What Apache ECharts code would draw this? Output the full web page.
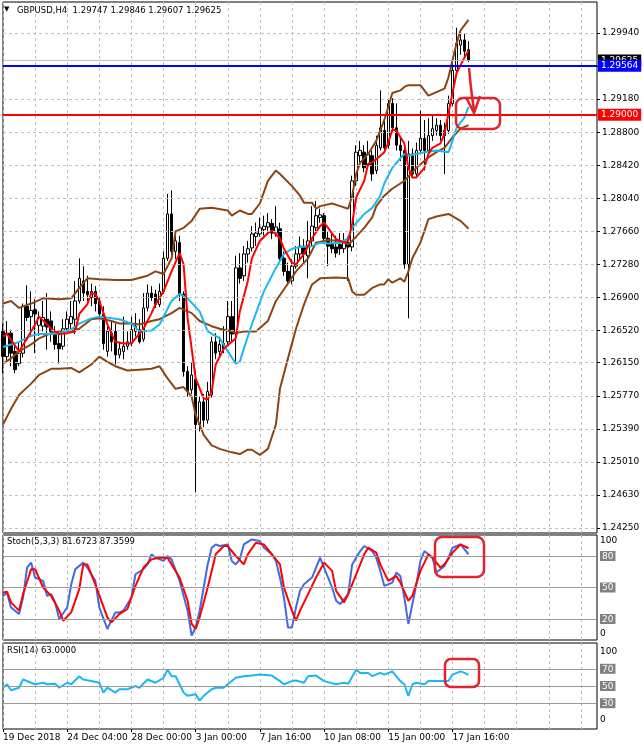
<!DOCTYPE html>
<html><head><meta charset="utf-8">
<script src="https://cdn.jsdelivr.net/npm/echarts@6/dist/echarts.min.js"></script>
<style>html,body{margin:0;padding:0;background:#fff}#c{width:643px;height:750px}</style>
</head><body><div id="c"></div>
<script>
// ---- data (GBPUSD H4) ----
const openP=[1.2651,1.2622,1.2649,1.2628,1.2614,1.2626,1.2680,1.2668,1.2676,1.2658,1.2657,1.2665,1.2663,1.2648,1.2637,1.2634,1.2654,1.2660,1.2665,1.2686,1.2709,1.2697,1.2690,1.2697,1.2686,1.2671,1.2628,1.2649,1.2651,1.2624,1.2628,1.2634,1.2637,1.2651,1.2653,1.2642,1.2678,1.2695,1.2694,1.2682,1.2697,1.2735,1.2786,1.2743,1.2753,1.2694,1.2605,1.2584,1.2596,1.2544,1.2570,1.2549,1.2578,1.2639,1.2628,1.2637,1.2639,1.2668,1.2648,1.2724,1.2715,1.2740,1.2747,1.2760,1.2763,1.2768,1.2771,1.2775,1.2764,1.2769,1.2735,1.2720,1.2709,1.2726,1.2740,1.2749,1.2738,1.2755,1.2770,1.2782,1.2784,1.2758,1.2751,1.2748,1.2751,1.2746,1.2753,1.2748,1.2824,1.2853,1.2857,1.2842,1.2853,1.2836,1.2862,1.2882,1.2865,1.2913,1.2885,1.2865,1.2859,1.2728,1.2855,1.2832,1.2859,1.2873,1.2859,1.2876,1.2882,1.2888,1.2876,1.2882,1.2913,1.2951,1.2980,1.2986,1.29747];
const highP=[1.2660,1.2663,1.2653,1.2634,1.2639,1.2683,1.2704,1.2697,1.2688,1.2674,1.2686,1.2695,1.2674,1.2657,1.2651,1.2665,1.2674,1.2686,1.2709,1.2735,1.2726,1.2715,1.2706,1.2703,1.2690,1.2680,1.2657,1.2663,1.2660,1.2639,1.2668,1.2651,1.2668,1.2672,1.2665,1.2695,1.2705,1.2703,1.2699,1.2706,1.2743,1.2809,1.2813,1.2767,1.2761,1.2697,1.2611,1.2616,1.2605,1.2576,1.2579,1.2593,1.2645,1.2649,1.2645,1.2657,1.2686,1.2686,1.2738,1.2741,1.2749,1.2755,1.2772,1.2776,1.2782,1.2784,1.2787,1.2780,1.2795,1.2776,1.2743,1.2730,1.2734,1.2749,1.2760,1.2757,1.2778,1.2795,1.2801,1.2792,1.2787,1.2766,1.2764,1.2761,1.2764,1.2764,1.2760,1.2830,1.2865,1.2870,1.2865,1.2870,1.2859,1.2876,1.2928,1.2894,1.2917,1.2919,1.2913,1.2873,1.2865,1.2870,1.2861,1.2868,1.2905,1.2894,1.2896,1.2899,1.2896,1.2894,1.2891,1.2922,1.2963,1.3000,1.2997,1.2993,1.29846];
const lowP=[1.2603,1.2616,1.2611,1.2603,1.2611,1.2621,1.2663,1.2645,1.2626,1.2646,1.2651,1.2630,1.2639,1.2630,1.2614,1.2630,1.2651,1.2654,1.2648,1.2683,1.2686,1.2686,1.2680,1.2674,1.2665,1.2630,1.2622,1.2628,1.2613,1.2620,1.2619,1.2630,1.2634,1.2645,1.2637,1.2639,1.2674,1.2686,1.2678,1.2679,1.2694,1.2732,1.2738,1.2734,1.2686,1.2599,1.2576,1.2579,1.2466,1.2536,1.2541,1.2545,1.2575,1.2619,1.2621,1.2626,1.2634,1.2639,1.2616,1.2706,1.2709,1.2730,1.2743,1.2749,1.2760,1.2761,1.2762,1.2757,1.2760,1.2730,1.2715,1.2704,1.2705,1.2723,1.2734,1.2730,1.2712,1.2749,1.2766,1.2776,1.2755,1.2726,1.2741,1.2736,1.2739,1.2741,1.2709,1.2743,1.2818,1.2845,1.2834,1.2838,1.2824,1.2832,1.2859,1.2859,1.2861,1.2880,1.2859,1.2847,1.2723,1.2666,1.2827,1.2829,1.2857,1.2836,1.2857,1.2870,1.2876,1.2870,1.2832,1.2878,1.2910,1.2948,1.2969,1.2967,1.29607];
const closeP=[1.2622,1.2649,1.2626,1.2607,1.2626,1.2680,1.2667,1.2675,1.2671,1.2667,1.2667,1.2656,1.2651,1.2636,1.2631,1.2654,1.2665,1.2668,1.2686,1.2712,1.2695,1.2693,1.2697,1.2683,1.2671,1.2637,1.2651,1.2639,1.2624,1.2631,1.2634,1.2639,1.2653,1.2657,1.2639,1.2678,1.2695,1.2690,1.2682,1.2697,1.2735,1.2786,1.2743,1.2755,1.2694,1.2605,1.2582,1.2601,1.2544,1.2570,1.2549,1.2582,1.2639,1.2626,1.2636,1.2631,1.2668,1.2648,1.2724,1.2712,1.2740,1.2746,1.2763,1.2764,1.2770,1.2772,1.2776,1.2764,1.2771,1.2735,1.2720,1.2709,1.2726,1.2740,1.2749,1.2740,1.2755,1.2772,1.2784,1.2785,1.2758,1.2749,1.2746,1.2741,1.2746,1.2754,1.2748,1.2824,1.2857,1.2859,1.2839,1.2855,1.2832,1.2865,1.2885,1.2862,1.2913,1.2885,1.2865,1.2859,1.2728,1.2855,1.2832,1.2859,1.2873,1.2859,1.2876,1.2884,1.2888,1.2876,1.2882,1.2913,1.2951,1.2982,1.2986,1.2973,1.29625];

const timeLabels=['19 Dec 2018','24 Dec 04:00','28 Dec 00:00','3 Jan 00:00','7 Jan 16:00','10 Jan 08:00','15 Jan 00:00','17 Jan 16:00'];
const priceTicks=[1.24250,1.24630,1.25010,1.25390,1.25770,1.26150,1.26520,1.26900,1.27280,1.27660,1.28040,1.28420,1.28800,1.29180,1.29560,1.29940];

const maFast=[[0,1.2645],[1,1.2648],[4,1.2628],[6,1.2643],[8,1.2659],[9,1.2668],[11,1.2659],[12,1.2654],[14,1.2648],[16,1.2649],[18,1.2651],[19,1.2671],[21,1.2682],[22,1.2695],[23,1.2694],[24,1.2686],[26,1.2659],[28,1.2639],[30,1.2637],[32,1.2637],[33,1.2643],[35,1.2654],[37,1.2672],[38,1.2682],[40,1.2697],[42,1.2720],[44,1.2741],[45,1.2728],[46,1.2666],[48,1.2597],[50,1.2574],[51,1.2573],[52,1.2582],[53,1.2613],[55,1.2631],[57,1.2639],[58,1.2643],[59,1.2674],[61,1.2709],[62,1.2735],[64,1.2755],[66,1.2764],[67,1.2767],[69,1.2758],[70,1.2746],[72,1.2730],[73,1.2728],[75,1.2740],[77,1.2758],[79,1.2772],[80,1.2776],[81,1.2770],[83,1.2757],[85,1.2753],[86,1.2755],[87,1.2775],[88,1.2805],[90,1.2824],[91,1.2844],[92,1.2845],[94,1.2853],[95,1.2857],[96,1.2868],[97,1.2883],[98,1.2882],[100,1.2867],[101,1.2839],[102,1.2828],[103,1.2828],[105,1.2839],[106,1.2855],[107,1.2862],[109,1.2867],[110,1.2878],[111,1.2902],[112,1.2925],[113,1.2948],[115,1.2966],[116,1.2974]];
const maSlow=[[0,1.2633],[2,1.2636],[4,1.2639],[7,1.2646],[9,1.2648],[12,1.2648],[14,1.2649],[17,1.2653],[19,1.2660],[22,1.2666],[24,1.2668],[27,1.2666],[29,1.2665],[32,1.2660],[34,1.2651],[37,1.2652],[39,1.2659],[42,1.2686],[44,1.2694],[46,1.2689],[49,1.2674],[51,1.2651],[54,1.2643],[56,1.2628],[58,1.2614],[59,1.2616],[60,1.2631],[62,1.2659],[65,1.2697],[68,1.2724],[70,1.2740],[72,1.2746],[74,1.2748],[77,1.2749],[79,1.2753],[81,1.2752],[84,1.2753],[86,1.2758],[87,1.2770],[90,1.2786],[92,1.2793],[94,1.2807],[95,1.2821],[97,1.2839],[99,1.2850],[100,1.2855],[101,1.2853],[105,1.2857],[108,1.2859],[111,1.2857],[112,1.2870],[113,1.2885],[115,1.2897],[116,1.2909]];
const bbUpper=[[0,1.2683],[2,1.2686],[4,1.2678],[7,1.2683],[10,1.2689],[14,1.2688],[17,1.2689],[19,1.2701],[21,1.2712],[24,1.2711],[28,1.2710],[32,1.2710],[36,1.2715],[38,1.2720],[40,1.2717],[42,1.2735],[43,1.2766],[45,1.2770],[47,1.2778],[49,1.2792],[52,1.2793],[56,1.2790],[57,1.2784],[59,1.2790],[61,1.2786],[62,1.2786],[64,1.2798],[66,1.2824],[68,1.2836],[69,1.2832],[72,1.2818],[74,1.2807],[75,1.2799],[77,1.2799],[78,1.2792],[79,1.2795],[82,1.2798],[84,1.2795],[86,1.2792],[87,1.2807],[88,1.2832],[89,1.2845],[91,1.2855],[93,1.2870],[95,1.2894],[96,1.2909],[97,1.2925],[99,1.2928],[100,1.2932],[101,1.2934],[104,1.2934],[106,1.2922],[108,1.2926],[110,1.2930],[111,1.2943],[112,1.2963],[113,1.2982],[114,1.2997],[116,1.3009]];
const bbMiddle=[[0,1.2614],[2,1.2620],[4,1.2628],[7,1.2636],[9,1.2643],[12,1.2649],[14,1.2651],[17,1.2651],[19,1.2654],[22,1.2665],[24,1.2666],[27,1.2663],[29,1.2660],[32,1.2660],[34,1.2659],[37,1.2663],[39,1.2665],[42,1.2672],[44,1.2678],[47,1.2672],[49,1.2663],[52,1.2657],[54,1.2654],[57,1.2651],[58,1.2649],[60,1.2651],[63,1.2651],[66,1.2663],[68,1.2686],[71,1.2706],[73,1.2720],[76,1.2735],[78,1.2753],[81,1.2756],[84,1.2755],[86,1.2751],[87,1.2755],[90,1.2770],[92,1.2782],[93,1.2795],[95,1.2807],[97,1.2815],[99,1.2821],[100,1.2824],[103,1.2839],[106,1.2851],[108,1.2857],[110,1.2862],[112,1.2874],[114,1.2884],[116,1.2888]];
const bbLower=[[0,1.2544],[2,1.2562],[4,1.2578],[7,1.2591],[9,1.2601],[12,1.2608],[14,1.2608],[17,1.2609],[19,1.2604],[22,1.2613],[24,1.2622],[26,1.2616],[28,1.2611],[31,1.2606],[34,1.2607],[37,1.2608],[39,1.2611],[41,1.2597],[43,1.2585],[45,1.2587],[47,1.2576],[48,1.2555],[50,1.2532],[52,1.2520],[54,1.2516],[57,1.2512],[59,1.2510],[61,1.2515],[62,1.2515],[64,1.2509],[66,1.2516],[68,1.2544],[69,1.2585],[71,1.2620],[73,1.2654],[75,1.2682],[77,1.2705],[79,1.2712],[83,1.2713],[86,1.2712],[87,1.2697],[88,1.2693],[90,1.2693],[92,1.2701],[94,1.2705],[95,1.2705],[96,1.2711],[97,1.2707],[99,1.2712],[100,1.2708],[101,1.2720],[102,1.2735],[104,1.2753],[106,1.2780],[108,1.2783],[111,1.2786],[114,1.2778],[116,1.2769]];

const stochK=[[0,42],[1,45],[2,31],[4,24.7],[5,40.5],[6,69],[7,73.7],[8,59.5],[10,56.3],[11,42],[12,43.7],[13,35.8],[14,20],[16,31],[17,53],[18,67.4],[20,73.7],[21,69],[23,56.3],[24,31],[26,10.5],[27,18.4],[28,26.3],[29,26.3],[30,27.9],[32,40.5],[33,62.6],[35,67.4],[36,72],[37,81.6],[38,78.4],[40,75.3],[41,80],[42,76.8],[44,56.3],[46,27.9],[47,4.2],[48,12.1],[49,27.9],[50,50],[51,72],[52,87.9],[53,91],[54,89.5],[56,91],[57,75.3],[58,72],[59,76.8],[60,91],[62,95.8],[64,94.2],[65,87.9],[67,81.6],[68,75.3],[69,59.5],[70,40.5],[71,12],[72,12],[73,31],[74,46.8],[75,53],[77,59.5],[78,69],[79,78.4],[80,69],[82,50],[83,37.4],[84,34.2],[86,43.7],[87,72],[89,84.7],[90,89.5],[92,84.7],[93,78.4],[94,65.8],[95,51.6],[97,54.7],[98,64.2],[99,61],[100,40.5],[101,15.3],[102,34.2],[103,53],[104,75.3],[105,84.7],[107,78.4],[108,64.2],[110,70.5],[111,78.4],[112,87.9],[114,91],[115,86.3],[116,81.6723]];
const stochD=[[0,45.3],[1,46],[2,35.8],[4,28],[5,43.7],[7,67.4],[8,67.4],[10,50],[12,42],[14,28],[15,18.4],[17,26.3],[19,48.4],[20,72],[21,72],[23,53],[26,21.6],[27,16.8],[29,24.7],[31,29.5],[33,51.6],[35,69],[37,76.8],[39,78.4],[41,78.4],[42,72],[44,59.5],[46,37.4],[47,15.3],[48,10.5],[49,21.6],[51,50],[53,81.6],[55,89.5],[56,89.5],[58,80],[60,72],[61,81.6],[63,92.6],[65,91],[66,86.3],[69,72],[70,50],[72,28],[73,18.4],[74,28],[76,43.7],[78,59.5],[80,73.7],[82,65.8],[83,46.8],[85,35.8],[86,43.7],[88,62.6],[90,81.6],[91,87.9],[93,83.2],[94,72],[96,56.3],[98,61],[99,54.7],[101,37.4],[102,42],[104,65.8],[106,81.6],[107,78.4],[109,69],[110,72],[112,83.2],[114,91],[116,87.3599]];
const rsi14=[[0,48],[1,52],[2,45],[4,48],[5,57.6],[7,53.8],[8,52],[10,53.8],[11,52],[13,52.7],[14,48],[16,53.8],[17,52],[19,61.4],[20,57.6],[22,55.7],[24,53.8],[25,42.4],[26,48],[28,42.4],[29,46.2],[31,46.2],[33,50],[34,48],[36,57.6],[38,53.8],[40,59.5],[41,69],[42,61.4],[43,61.4],[45,42.4],[46,38.6],[48,40.5],[49,32.9],[50,38.6],[52,46.2],[53,48],[55,48],[56,52],[58,59.5],[60,61.4],[62,62.1],[64,63.3],[67,62.1],[69,55.7],[70,52],[72,55.7],[73,56.4],[75,53.8],[76,61.4],[78,62.1],[80,55.7],[83,52],[85,53.8],[86,52.7],[88,69],[89,65.2],[91,65.2],[92,61.4],[94,65.2],[95,63.3],[97,67],[99,55.7],[100,52],[101,38.6],[102,52],[103,53.8],[105,52],[106,55.7],[108,55.7],[110,55.7],[111,55.7],[112,63.3],[114,67],[115,65.2],[116,63]];

const bidPrice=1.29625, blueLevel=1.29564, redLevel=1.29000;
const stochLevels=[20,50,80], rsiLevels=[30,50,70];
const stochTicks=[0,20,50,80,100], rsiTicks=[0,30,50,70,100];

// ---- chart ----
const FONT='DejaVu Sans';
const nCat=149;
const cats=Array.from({length:nCat},(_,i)=>String(i));
const ohlc=openP.map((o,i)=>[o,closeP[i],lowP[i],highP[i]]);
const gridStyle={show:true,borderColor:'#000',borderWidth:1,backgroundColor:'#fff'};

function xAx(g){
  return {type:'category',gridIndex:g,data:cats,boundaryGap:false,
    axisLine:{show:false},
    axisTick:{show:g===2,interval:(i)=>i%16===0&&i<=112,length:3,lineStyle:{color:'#000'}},
    axisLabel:{show:g===2,interval:(i)=>i%16===0&&i<=112,formatter:(v,i)=>timeLabels[Math.round(i/16)],
      align:'left',margin:4,fontSize:9,color:'#000',fontFamily:FONT},
    splitLine:{show:true,interval:(i)=>i%8===0,lineStyle:{color:'#c0c0c0',type:[3,3],width:1}}};
}
function subLabel(ticks,shiftTop){
  return {customValues:ticks,fontSize:9,color:'#000',fontFamily:FONT,margin:3,
    formatter:(v)=>{ if(v===100) return '{t|100}'; if(v===0) return '{b|0}'; return '{g|'+v+'}'; },
    rich:{t:{padding:[shiftTop,0,0,0],fontSize:9,fontFamily:FONT,color:'#000'},
          b:{padding:[0,0,shiftTop,0],fontSize:9,fontFamily:FONT,color:'#000'},
          g:{backgroundColor:'#808080',color:'#fff',padding:[1,2,0,2],fontSize:9,fontFamily:FONT}}};
}

function lineS(data,color,xi,yi,z){
  return {type:'line',data:data,xAxisIndex:xi,yAxisIndex:yi,showSymbol:false,symbol:'none',
    lineStyle:{color:color,width:2},z:z||3,silent:true};
}
function levelLbl(bg){
  return {show:true,position:'end',distance:1,formatter:(p)=>Number(p.value).toFixed(5),
    color:'#fff',backgroundColor:bg,padding:[2,3,1,3],fontSize:9,fontFamily:FONT};
}
const RED='#e3232b';
const option={
  animation:false,
  backgroundColor:'#fff',
  textStyle:{fontFamily:FONT},
  title:[
    {text:'▼',left:4,top:6,padding:0,textStyle:{fontSize:7,fontWeight:'normal',color:'#000',fontFamily:FONT}},
    {text:'GBPUSD,H4  1.29747 1.29846 1.29607 1.29625',left:17,top:6,padding:0,textStyle:{fontSize:8.5,fontWeight:'normal',color:'#000',fontFamily:FONT}},
    {text:'Stoch(5,3,3) 81.6723 87.3599',left:7,top:537,padding:0,textStyle:{fontSize:8.5,fontWeight:'normal',color:'#000',fontFamily:FONT}},
    {text:'RSI(14) 63.0000',left:7,top:646,padding:0,textStyle:{fontSize:8.5,fontWeight:'normal',color:'#000',fontFamily:FONT}}
  ],
  grid:[
    Object.assign({left:3,right:46,top:2,height:531},gridStyle),
    Object.assign({left:3,right:46,top:535,height:105},gridStyle),
    Object.assign({left:3,right:46,top:643,height:86},gridStyle)
  ],
  xAxis:[xAx(0),xAx(1),xAx(2)],
  yAxis:[
    {type:'value',gridIndex:0,position:'right',min:1.24193,max:1.30296,
      axisLine:{show:false},
      axisTick:{show:true,customValues:priceTicks,length:3,lineStyle:{color:'#000'}},
      axisLabel:{customValues:priceTicks,formatter:(v)=>v.toFixed(5),fontSize:9,color:'#000',margin:5,fontFamily:FONT},
      splitLine:{show:false}},
    {type:'value',gridIndex:1,position:'right',min:0,max:100,axisLine:{show:false},axisTick:{show:false},
      axisLabel:subLabel(stochTicks,12),splitLine:{show:false}},
    {type:'value',gridIndex:2,position:'right',min:0,max:100,axisLine:{show:false},axisTick:{show:false},
      axisLabel:subLabel(rsiTicks,18),splitLine:{show:false}}
  ],
  series:[
    {type:'line',data:[],xAxisIndex:0,yAxisIndex:0,z:1,silent:true,
      markLine:{silent:true,symbol:'none',precision:5,animation:false,label:{show:false},
        lineStyle:{color:'#c0c0c0',type:[3,3],width:1},
        data:priceTicks.map(v=>({yAxis:v}))}},
    {type:'candlestick',data:ohlc,xAxisIndex:0,yAxisIndex:0,barWidth:3,z:2,silent:true,
      itemStyle:{color:'#fff',color0:'#000',borderColor:'#000',borderColor0:'#000',borderWidth:1}},
    {type:'line',data:[],xAxisIndex:0,yAxisIndex:0,z:2.5,silent:true,
      markLine:{silent:true,symbol:'none',precision:5,animation:false,
        data:[
          {yAxis:bidPrice,lineStyle:{color:'#c0c0c0',width:1,type:'solid'},label:levelLbl('#000')},
          {yAxis:blueLevel,lineStyle:{color:'#0000ff',width:2,type:'solid'},label:levelLbl('#0000ff')},
          {yAxis:redLevel,lineStyle:{color:'#ff0000',width:2,type:'solid'},label:levelLbl('#ff0000')}
        ]}},
    lineS(bbUpper,'#8b4513',0,0),
    lineS(bbMiddle,'#8b4513',0,0),
    lineS(bbLower,'#8b4513',0,0),
    lineS(maSlow,'#1ab8f0',0,0),
    lineS(maFast,'#ff0000',0,0),
    {type:'line',data:[],xAxisIndex:1,yAxisIndex:1,z:1,silent:true,
      markLine:{silent:true,symbol:'none',precision:2,animation:false,label:{show:false},
        lineStyle:{color:'#999999',type:'solid',width:1},data:stochLevels.map(v=>({yAxis:v}))}},
    lineS(stochK,'#4169e1',1,1),
    lineS(stochD,'#ff0000',1,1),
    {type:'line',data:[],xAxisIndex:2,yAxisIndex:2,z:1,silent:true,
      markLine:{silent:true,symbol:'none',precision:2,animation:false,label:{show:false},
        lineStyle:{color:'#999999',type:'solid',width:1},data:rsiLevels.map(v=>({yAxis:v}))}},
    lineS(rsi14,'#1ab8f0',2,2)
  ],
  graphic:[
    {type:'rect',z:100,shape:{x:456,y:98,width:44,height:31,r:7},style:{fill:'none',stroke:RED,lineWidth:2.5}},
    {type:'polyline',z:100,shape:{points:[[469,68],[471,88],[474,111]]},style:{fill:'none',stroke:RED,lineWidth:2.5}},
    {type:'polyline',z:100,shape:{points:[[466,97],[474,113],[480,96]]},style:{fill:'none',stroke:RED,lineWidth:2.5}},
    {type:'rect',z:100,shape:{x:435,y:537,width:49,height:40,r:7},style:{fill:'none',stroke:RED,lineWidth:2.5}},
    {type:'rect',z:100,shape:{x:445,y:659,width:34,height:28,r:6},style:{fill:'none',stroke:RED,lineWidth:2.5}}
  ]
};
const chart=echarts.init(document.getElementById('c'),null,{renderer:'canvas'});
chart.setOption(option);
</script>
</body></html>
